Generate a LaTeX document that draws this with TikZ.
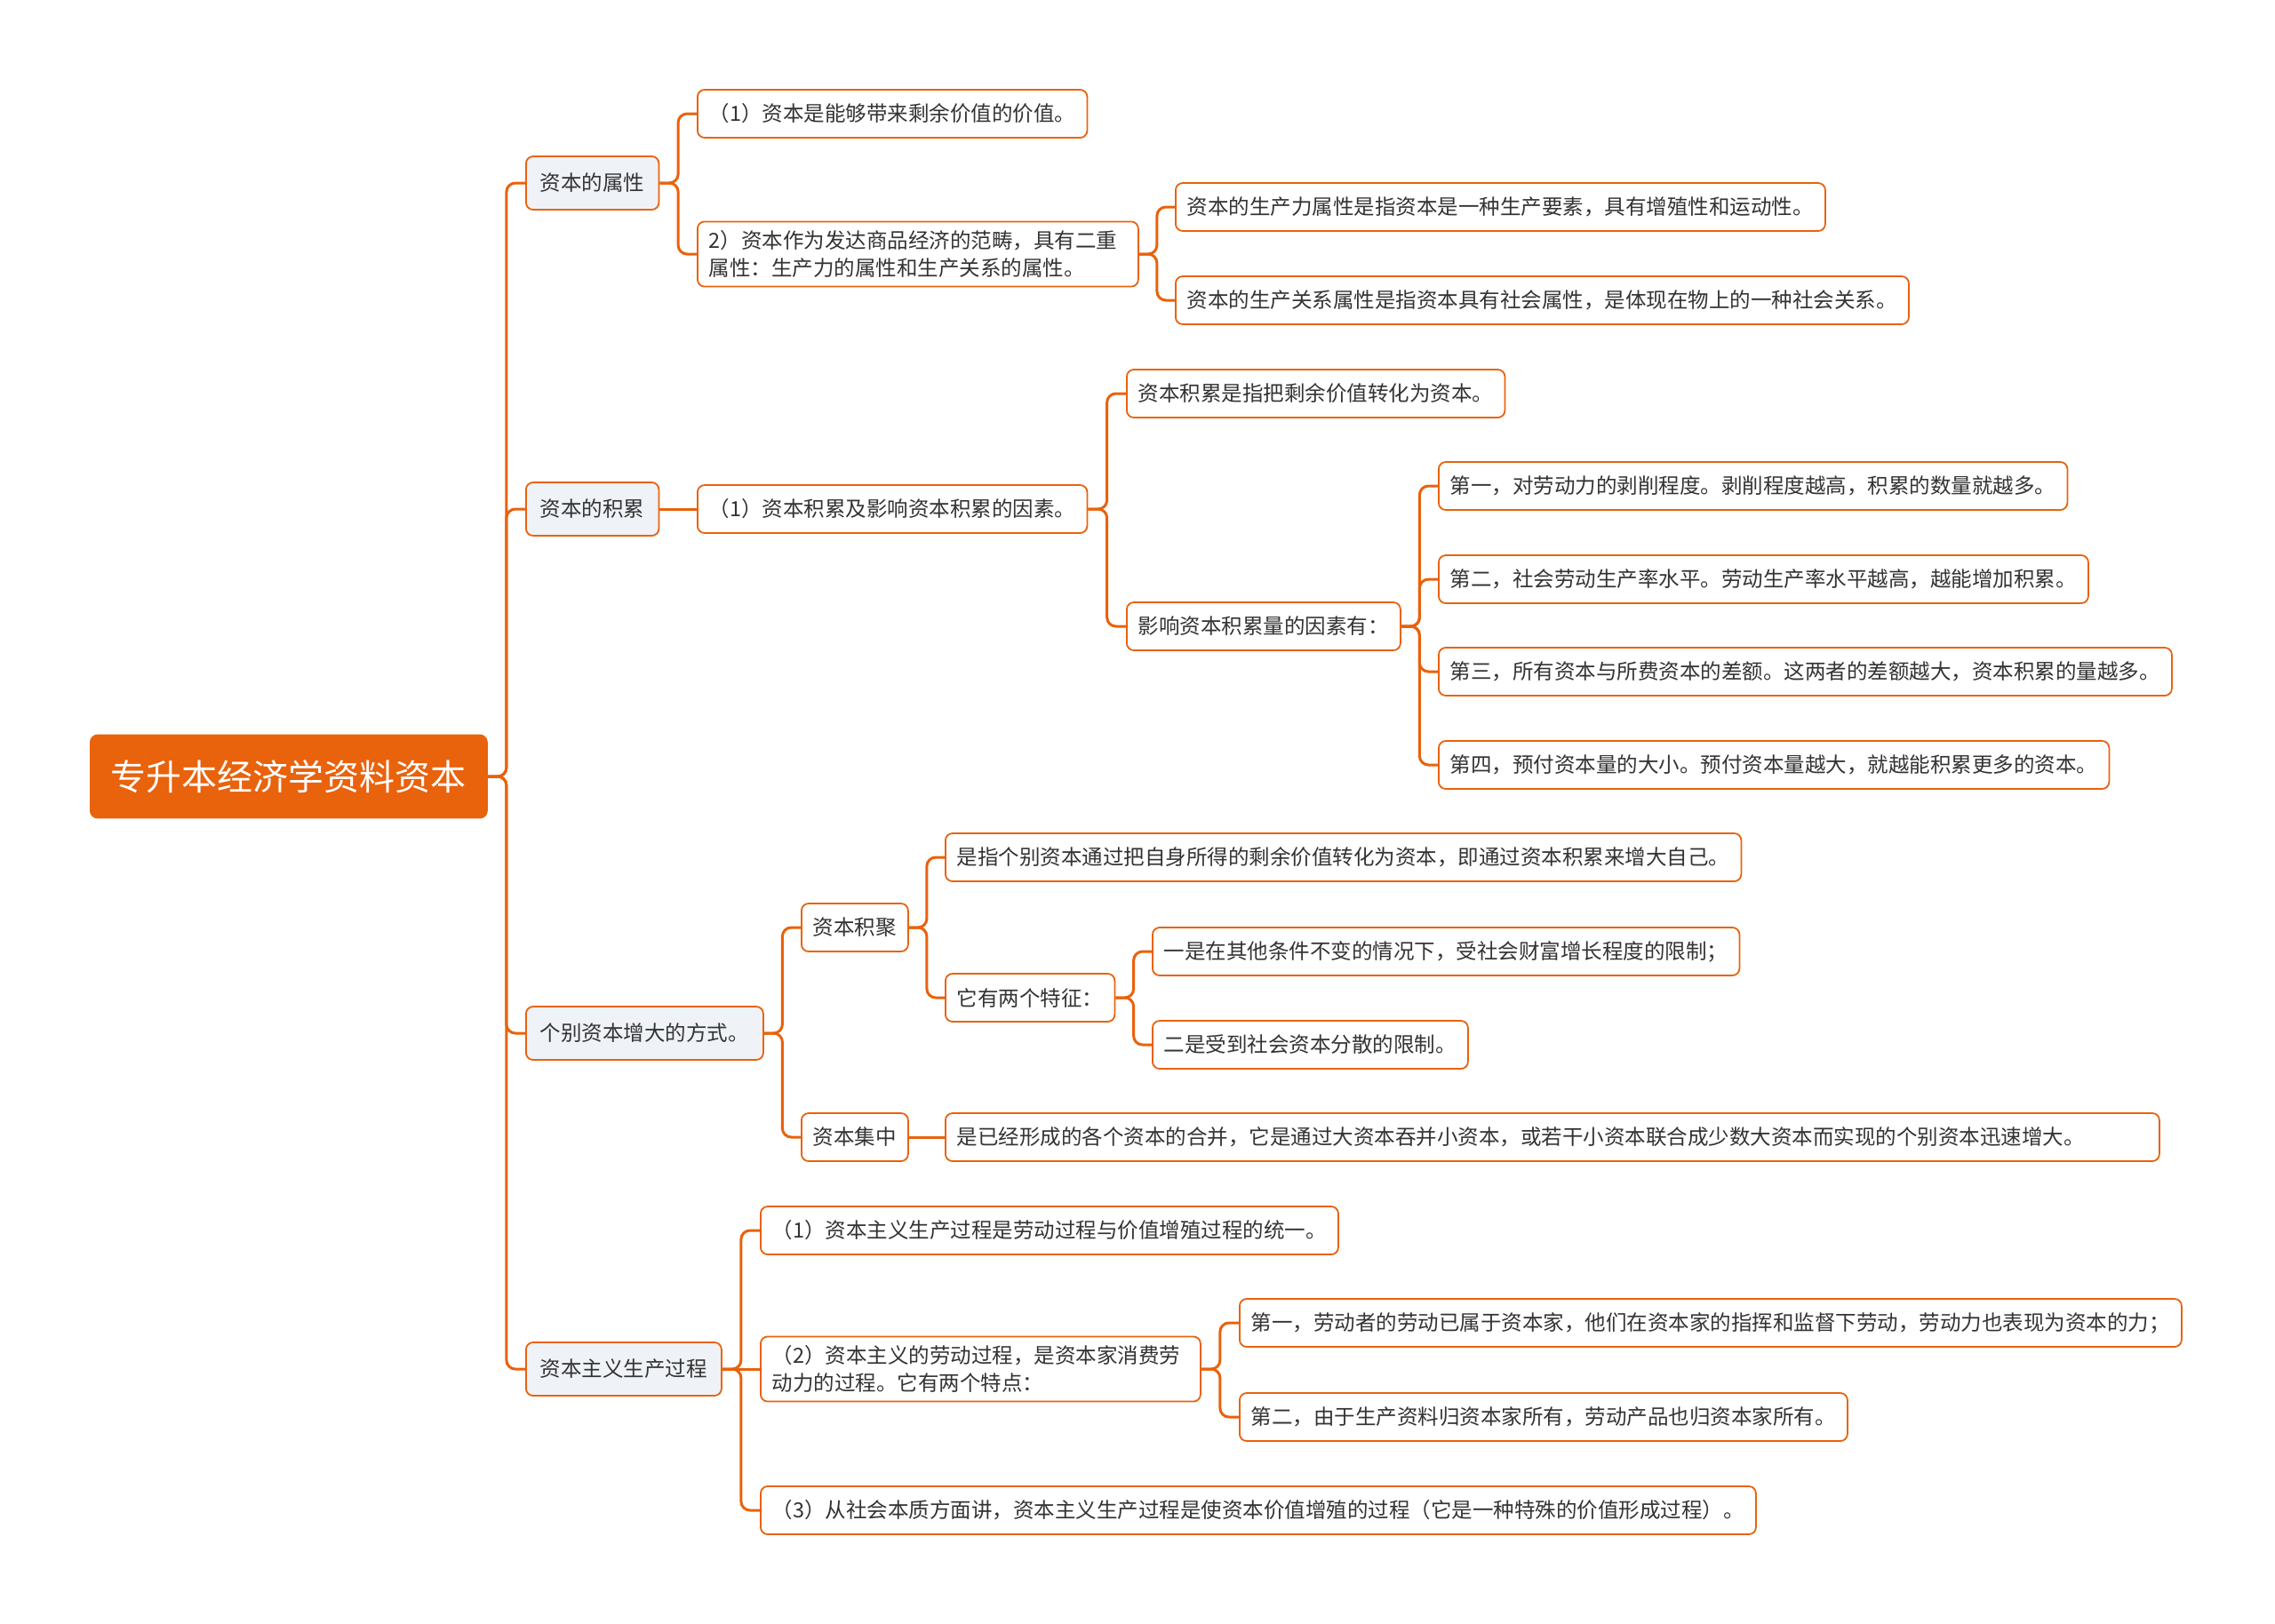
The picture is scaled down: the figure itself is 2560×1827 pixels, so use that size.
\documentclass[tikz,border=0pt]{standalone}
\usepackage{fontspec}
\setmainfont{Noto Sans CJK SC}
\usetikzlibrary{positioning,calc}
\definecolor{mainorange}{RGB}{233,98,12}
\definecolor{topicfill}{RGB}{239,242,246}
\definecolor{txt}{RGB}{51,51,51}
% elbow connector from a parent node to a child node
\newcommand{\branch}[2]{\draw[br] (#1.east) -| ($(#1.east)!.5!(#2.west)$) |- (#2.west);}

\begin{document}
\begin{tikzpicture}[
  x=0.5pt,y=-0.5pt,
  font=\fontsize{11.75pt}{15.5pt}\selectfont,
  box/.style={draw=mainorange,line width=0.9pt,rounded corners=4pt,
    text=txt,align=left,minimum height=27pt,inner xsep=6.5pt,inner ysep=5pt,
    fill=white,anchor=west},
  main/.style={box,fill=mainorange,draw=mainorange,text=white,
    font=\fontsize{20pt}{24pt}\selectfont,minimum height=46.5pt,inner xsep=11.5pt},
  sub/.style={box,fill=topicfill,minimum height=30pt,inner xsep=8pt},
  leaf/.style={box},
  br/.style={draw=mainorange,line width=1.5pt,rounded corners=5pt}
]
\useasboundingbox (0,0) rectangle (2560,1827);

\node[main] (root) at (101,874) {专升本经济学资料资本};

\node[sub] (attr) at (591,206) {资本的属性};
\node[sub] (acc)  at (591,573) {资本的积累};
\node[sub] (grow) at (591,1163) {个别资本增大的方式。};
\node[sub] (proc) at (591,1541) {资本主义生产过程};

% capital attributes
\node[leaf] (a1) at (784,128) {（1）资本是能够带来剩余价值的价值。};
\node[leaf,text width=235pt] (a2) at (784,286) {2）资本作为发达商品经济的范畴，具有二重\\属性：生产力的属性和生产关系的属性。};
\node[leaf] (a2a) at (1322,233) {资本的生产力属性是指资本是一种生产要素，具有增殖性和运动性。};
\node[leaf] (a2b) at (1322,338) {资本的生产关系属性是指资本具有社会属性，是体现在物上的一种社会关系。};

% accumulation
\node[leaf] (b1) at (784,573) {（1）资本积累及影响资本积累的因素。};
\node[leaf] (b1a) at (1267,443) {资本积累是指把剩余价值转化为资本。};
\node[leaf] (b1b) at (1267,705) {影响资本积累量的因素有：};
\node[leaf] (c1) at (1618,547) {第一，对劳动力的剥削程度。剥削程度越高，积累的数量就越多。};
\node[leaf] (c2) at (1618,652) {第二，社会劳动生产率水平。劳动生产率水平越高，越能增加积累。};
\node[leaf] (c3) at (1618,756) {第三，所有资本与所费资本的差额。这两者的差额越大，资本积累的量越多。};
\node[leaf] (c4) at (1618,861) {第四，预付资本量的大小。预付资本量越大，就越能积累更多的资本。};

% growth of individual capital
\node[leaf] (d1) at (901,1044) {资本积聚};
\node[leaf] (d2) at (901,1280) {资本集中};
\node[leaf] (d1a) at (1063,965) {是指个别资本通过把自身所得的剩余价值转化为资本，即通过资本积累来增大自己。};
\node[leaf] (d1b) at (1063,1123) {它有两个特征：};
\node[leaf] (d1b1) at (1296,1071) {一是在其他条件不变的情况下，受社会财富增长程度的限制；};
\node[leaf] (d1b2) at (1296,1176) {二是受到社会资本分散的限制。};
\node[leaf,text width=670pt] (d2a) at (1063,1280) {是已经形成的各个资本的合并，它是通过大资本吞并小资本，或若干小资本联合成少数大资本而实现的个别资本迅速增大。};

% production process
\node[leaf] (e1) at (855,1385) {（1）资本主义生产过程是劳动过程与价值增殖过程的统一。};
\node[leaf,text width=234.5pt] (e2) at (855,1541) {（2）资本主义的劳动过程，是资本家消费劳\\动力的过程。它有两个特点：};
\node[leaf] (e3) at (855,1700) {（3）从社会本质方面讲，资本主义生产过程是使资本价值增殖的过程（它是一种特殊的价值形成过程）。};
\node[leaf] (e2a) at (1394,1489) {第一，劳动者的劳动已属于资本家，他们在资本家的指挥和监督下劳动，劳动力也表现为资本的力；};
\node[leaf] (e2b) at (1394,1595) {第二，由于生产资料归资本家所有，劳动产品也归资本家所有。};

\branch{root}{attr}
\branch{root}{acc}
\branch{root}{grow}
\branch{root}{proc}
\branch{attr}{a1}
\branch{attr}{a2}
\branch{a2}{a2a}
\branch{a2}{a2b}
\draw[br] (acc.east) -- (b1.west);
\branch{b1}{b1a}
\branch{b1}{b1b}
\branch{b1b}{c1}
\branch{b1b}{c2}
\branch{b1b}{c3}
\branch{b1b}{c4}
\branch{grow}{d1}
\branch{grow}{d2}
\branch{d1}{d1a}
\branch{d1}{d1b}
\branch{d1b}{d1b1}
\branch{d1b}{d1b2}
\draw[br] (d2.east) -- (d2a.west);
\branch{proc}{e1}
\draw[br] (proc.east) -- (e2.west);
\branch{proc}{e3}
\branch{e2}{e2a}
\branch{e2}{e2b}
\end{tikzpicture}
\end{document}
